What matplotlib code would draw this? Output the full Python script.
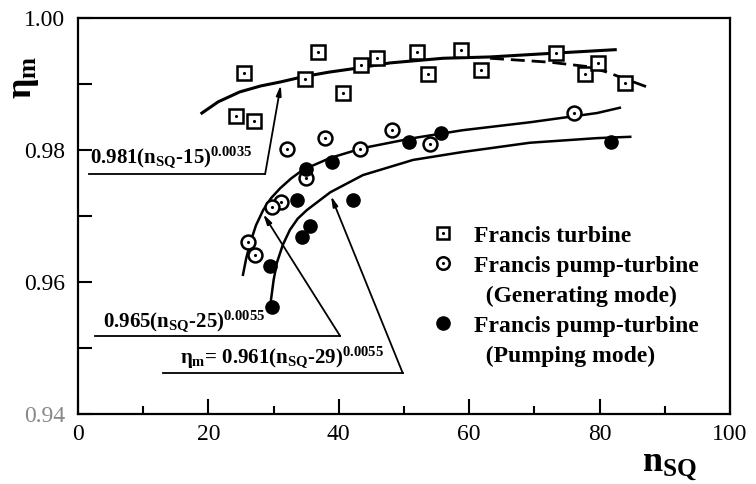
import matplotlib.pyplot as plt
from matplotlib.lines import Line2D
from matplotlib.ticker import MultipleLocator

plt.rcParams['font.family'] = 'Liberation Serif'
plt.rcParams['mathtext.fontset'] = 'custom'
plt.rcParams['mathtext.rm'] = 'Liberation Serif:bold'
plt.rcParams['mathtext.it'] = 'Liberation Serif:bold'
plt.rcParams['mathtext.bf'] = 'Liberation Serif:bold'

# Francis turbine (squares)
turb_x = [25.5, 24.2, 27.0, 34.8, 36.8, 40.6, 43.4, 45.9, 52.0, 53.7, 58.7, 61.8, 73.3, 77.8, 79.8, 83.9]
turb_y = [0.9917, 0.9852, 0.9844, 0.9908, 0.9949, 0.9886, 0.9929, 0.9939, 0.9949, 0.9915, 0.9952, 0.9921,
          0.9947, 0.9915, 0.9932, 0.9902]

# pump-turbine, generating mode (open circles)
gen_x = [32.1, 37.9, 48.2, 43.3, 54.0, 76.1, 35.0, 31.1, 29.8, 26.1, 27.1]
gen_y = [0.9802, 0.9818, 0.9830, 0.9802, 0.9809, 0.9856, 0.9758, 0.9721, 0.9714, 0.9661, 0.9641]

# pump-turbine, pumping mode (filled circles)
pump_x = [35.0, 39.0, 33.6, 42.2, 35.6, 34.4, 29.4, 29.8, 50.8, 55.7, 81.7]
pump_y = [0.9771, 0.9782, 0.9724, 0.9724, 0.9685, 0.9668, 0.9624, 0.9562, 0.9812, 0.9826, 0.9812]

# fitted curves
fit_t_x = [19.0, 21.5, 24.8, 28.0, 31.0, 34.5, 38.5, 42.8, 47.9, 56.0, 63.2, 73.5, 82.4]
fit_t_y = [0.9856, 0.9873, 0.9888, 0.9897, 0.9903, 0.9911, 0.9918, 0.9924, 0.9932, 0.9939, 0.9941, 0.9947, 0.9952]
dash_t_x = [63.2, 72.4, 78.5, 81.1, 87.7]
dash_t_y = [0.9939, 0.9933, 0.9926, 0.9918, 0.9894]
fit_g_x = [25.3, 25.8, 26.4, 27.3, 28.4, 29.6, 31.0, 32.7, 34.5, 38.7, 43.7, 51.4, 59.0, 69.3, 79.6, 83.1]
fit_g_y = [0.9611, 0.9636, 0.9659, 0.9686, 0.9709, 0.9727, 0.9742, 0.9757, 0.9770, 0.9788, 0.9803, 0.9818,
           0.9830, 0.9842, 0.9856, 0.9864]
fit_p_x = [29.6, 30.0, 30.5, 31.4, 32.5, 33.7, 35.1, 38.7, 43.7, 51.4, 59.0, 69.3, 79.6, 84.7]
fit_p_y = [0.9573, 0.9603, 0.9629, 0.9656, 0.9679, 0.9696, 0.9709, 0.9736, 0.9762, 0.9785, 0.9797, 0.9811,
           0.9818, 0.9820]

fig = plt.figure(figsize=(7.56, 4.84), dpi=100)
ax = fig.add_axes([0.1032, 0.1446, 0.8624, 0.8182])

ax.plot(fit_t_x, fit_t_y, color='black', lw=2.2)
ax.plot(dash_t_x, dash_t_y, color='black', lw=2.0, dashes=(5, 2.5))
ax.plot(fit_g_x, fit_g_y, color='black', lw=1.8)
ax.plot(fit_p_x, fit_p_y, color='black', lw=1.8)

ax.plot(turb_x, turb_y, 's', ms=9.5, mfc='white', mec='black', mew=1.8, zorder=3)
ax.plot(turb_x, turb_y, '.', ms=2.5, color='black', zorder=4)
ax.plot(gen_x, gen_y, 'o', ms=10, mfc='white', mec='black', mew=1.8, zorder=3)
ax.plot(gen_x, gen_y, '.', ms=2.5, color='black', zorder=4)
ax.plot(pump_x, pump_y, 'o', ms=9.5, color='black', zorder=3)

# formula labels with leader lines
arrow = dict(arrowstyle='-|>,head_length=0.6,head_width=0.15', color='black', lw=1.3, shrinkA=0, shrinkB=0)
ax.text(1.8, 0.9780, '0.981(n$_{SQ}$-15)$^{0.0035}$', fontsize=15, fontweight='bold')
ax.plot([1.7, 28.7], [0.97636, 0.97636], color='black', lw=1.3)
ax.annotate('', xy=(31.1, 0.98985), xytext=(28.7, 0.97636), arrowprops=arrow)

ax.text(3.8, 0.9532, '0.965(n$_{SQ}$-25)$^{0.0055}$', fontsize=15, fontweight='bold')
ax.plot([2.6, 40.2], [0.95182, 0.95182], color='black', lw=1.3)
ax.annotate('', xy=(28.4, 0.9703), xytext=(40.2, 0.95182), arrowprops=arrow)

ax.text(15.6, 0.9477, r'$\eta_m$= 0.961(n$_{SQ}$-29)$^{0.0055}$', fontsize=15, fontweight='bold')
ax.plot([13.0, 49.8], [0.94621, 0.94621], color='black', lw=1.3)
ax.annotate('', xy=(38.8, 0.97303), xytext=(49.8, 0.94621), arrowprops=arrow)

ax.set_xlim(0, 100)
ax.set_ylim(0.94, 1.00)
ax.xaxis.set_major_locator(MultipleLocator(20))
ax.xaxis.set_minor_locator(MultipleLocator(10))
ax.set_yticks([0.94, 0.96, 0.98, 1.00])
ax.set_yticklabels(['0.94', '0.96', '0.98', '1.00'])
ax.set_yticks([0.95, 0.97, 0.99], minor=True)
ax.tick_params(which='both', direction='in', top=False, right=False, labelsize=17, width=1.5)
ax.tick_params(axis='x', which='major', length=11, pad=7)
ax.tick_params(axis='x', which='minor', length=6)
ax.tick_params(axis='y', which='both', length=10, pad=9)
ax.get_yticklabels()[0].set_color('#888888')
for s in ax.spines.values():
    s.set_linewidth(1.6)

fig.text(0.033, 0.84, r'$\eta_m$', fontsize=26, rotation=90, ha='center', va='center')
fig.text(0.885, 0.035, r'$n_{SQ}$', fontsize=26, ha='center', va='center')

h_t = (Line2D([], [], marker='s', ls='none', ms=9, mfc='white', mec='black', mew=1.8),
       Line2D([], [], marker='.', ls='none', ms=2.5, color='black'))
h_g = (Line2D([], [], marker='o', ls='none', ms=9, mfc='white', mec='black', mew=1.8),
       Line2D([], [], marker='.', ls='none', ms=2.5, color='black'))
h_p = Line2D([], [], marker='o', ls='none', ms=9.5, color='black')
h_e = Line2D([], [], ls='none')
leg = ax.legend([h_t, h_g, h_e, h_p, h_e],
                ['Francis turbine', 'Francis pump-turbine', '  (Generating mode)',
                 'Francis pump-turbine', '  (Pumping mode)'],
                loc='upper left', bbox_to_anchor=(0.52, 0.507), frameon=False,
                prop={'weight': 'bold', 'size': 17}, labelspacing=0.36,
                handlelength=1.2, handletextpad=0.7, borderpad=0)

fig.savefig('out.png', dpi=100)
